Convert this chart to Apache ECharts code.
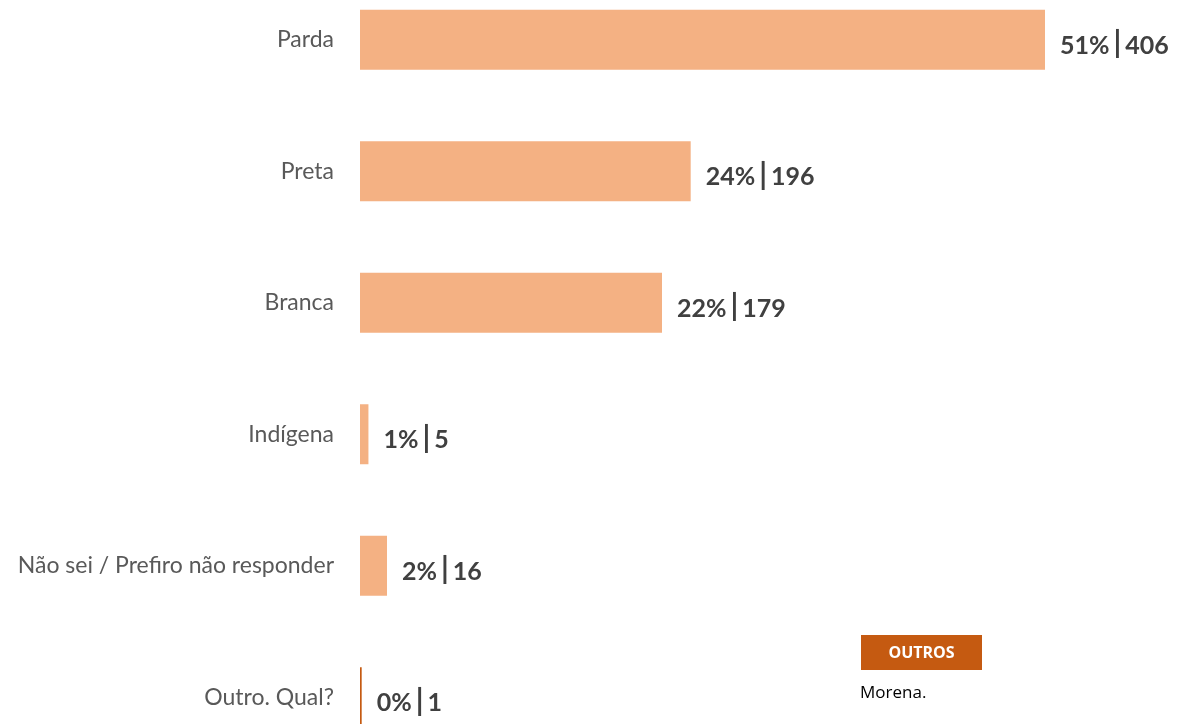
<!DOCTYPE html>
<html><head><meta charset="utf-8">
<script src="https://cdn.jsdelivr.net/npm/echarts@6/dist/echarts.min.js"></script>
<style>html,body{margin:0;padding:0;background:#fff;overflow:hidden}#c{width:1177px;height:789px;margin-top:-26px}</style>
</head><body><div id="c"></div>
<script>
var categories = ['Parda','Preta','Branca','Indígena','Não sei / Prefiro não responder','Outro. Qual?'];
var counts = [406,196,179,5,16,1];
var percents = [51,24,22,1,2,0];
var outrosTitle = 'OUTROS';
var outrosText = 'Morena.';

var OFF = 26;
var chart = echarts.init(document.getElementById('c'));
chart.setOption({
  animation:false,
  grid:{left:360, width:685, top:0, height:789, containLabel:false},
  xAxis:{type:'value', min:0, max:406, show:false},
  yAxis:{type:'category', inverse:true, data:categories,
    axisLine:{show:false}, axisTick:{show:false}, splitLine:{show:false},
    axisLabel:{margin:26, fontFamily:'Lato', fontSize:23, color:'#595959'}},
  series:[{type:'bar', barWidth:60,
    data:counts.map(function(v,i){
      return {value:v, itemStyle:{color: i===5 ? '#C55A11' : '#F4B183'}};
    }),
    label:{show:true, position:'right', distance:15, offset:[0,4],
      formatter:function(p){return '{a|'+percents[p.dataIndex]+'%}{s||}{a|'+counts[p.dataIndex]+'}';},
      rich:{a:{fontFamily:'Lato', fontWeight:'bold', fontSize:25, color:'#404040', padding:[4,0,0,0]},
            s:{fontFamily:'Lato', fontWeight:'bold', fontSize:30, color:'#404040', padding:[0,4,0,4]}}}
  }],
  graphic:[
    {type:'rect', shape:{x:861,y:635+OFF,width:121,height:35}, style:{fill:'#C55A11'}},
    {type:'text', x:921.5, y:653+OFF, style:{text:outrosTitle, fill:'#fff', font:'bold 16px "Open Sans"', align:'center', verticalAlign:'middle'}},
    {type:'text', x:860, y:693+OFF, style:{text:outrosText, fill:'#000', font:'17px "Open Sans"', verticalAlign:'middle'}}
  ]
});
</script></body></html>
